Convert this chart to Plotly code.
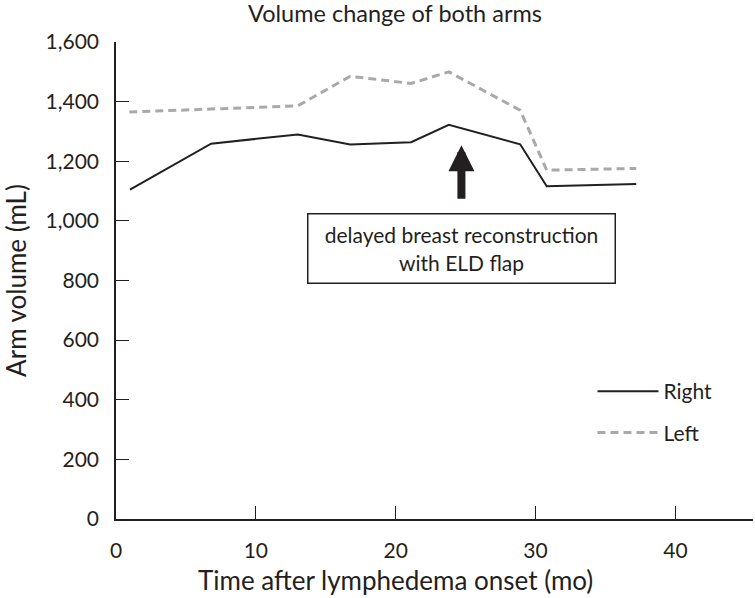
import plotly.graph_objects as go

# ---- data ----
months_right = [1.0, 6.8, 13.0, 16.75, 21.1, 23.8, 28.9, 30.8, 37.2]
volume_right = [1105, 1259, 1290, 1256, 1264, 1322, 1257, 1116, 1124]
months_left = [0.95, 13.0, 16.75, 21.1, 23.8, 28.9, 30.8, 37.2]
volume_left = [1365, 1386, 1485, 1461, 1500, 1371, 1170, 1176]

x_ticks = [0, 10, 20, 30, 40]
y_ticks = [0, 200, 400, 600, 800, 1000, 1200, 1400, 1600]
y_tick_labels = ["0", "200", "400", "600", "800", "1,000", "1,200", "1,400", "1,600"]

title_text = "Volume change of both arms"
x_title = "Time after lymphedema onset (mo)"
y_title = "Arm volume (mL)"
event_text = "delayed breast reconstruction<br>with ELD flap"
event_month = 24.7
arrow_tip, arrow_tail = 1254, 1069
box_center = 908

INK = "#231f20"
GREY = "#a7a9ac"
FONT = "Lato"
W, H = 755, 598
PLOT_TOP, PLOT_BOTTOM = 42, 519

fig = go.Figure()
fig.add_trace(go.Scatter(x=months_right, y=volume_right, mode="lines", name="Right",
                         legendgroup="r",
                         line=dict(color=INK, width=2)))
fig.add_trace(go.Scatter(x=months_left, y=volume_left, mode="lines", name="Left",
                         legendgroup="l",
                         line=dict(color=GREY, width=3, dash="8px,5px")))

fig.add_annotation(x=event_month, y=arrow_tip, ax=event_month, ay=arrow_tail,
                   xref="x", yref="y", axref="x", ayref="y", text="",
                   showarrow=True, arrowhead=2, arrowsize=0.65, arrowwidth=8,
                   arrowcolor=INK)
fig.add_annotation(x=event_month, y=box_center, xref="x", yref="y",
                   text=event_text, showarrow=False,
                   font=dict(family=FONT, size=21, color=INK),
                   bordercolor=INK, borderwidth=1.5, borderpad=3,
                   width=300, height=62, bgcolor="white")
# x-axis title (centred on the page, as in the reference)
fig.add_annotation(x=(395 - 116) / (W - 118), y=(PLOT_BOTTOM - 580) / (PLOT_BOTTOM - PLOT_TOP),
                   xref="paper", yref="paper",
                   text=x_title, showarrow=False, xanchor="center", yanchor="middle",
                   font=dict(family=FONT, size=26, color=INK))

fig.update_layout(
    width=W, height=H,
    margin=dict(l=116, r=2, t=PLOT_TOP, b=H - PLOT_BOTTOM, autoexpand=False),
    paper_bgcolor="white", plot_bgcolor="white",
    font=dict(family=FONT, color=INK, size=19),
    title=dict(text=title_text, x=395 / W, xanchor="center", xref="container",
               y=1 - 14 / H, yanchor="middle", yref="container",
               font=dict(family=FONT, size=23.5, color=INK)),
    showlegend=True,
    legend=dict(x=0.748, y=(519 - 371) / 477, xanchor="left", yanchor="top",
                traceorder="grouped", tracegroupgap=11, itemwidth=61,
                font=dict(family=FONT, size=21, color=INK),
                bgcolor="rgba(0,0,0,0)"),
)
fig.update_xaxes(range=[0, 45.55], tickvals=x_ticks, ticks="inside", ticklen=13,
                 tickwidth=1.2, tickcolor=INK, showline=True, linecolor=INK,
                 linewidth=1.5, showgrid=False, zeroline=False, automargin=False,
                 tickfont=dict(family=FONT, size=21, color=INK), ticklabelstandoff=12)
fig.update_yaxes(range=[0, 1600], tickvals=y_ticks, ticktext=y_tick_labels,
                 ticks="inside", ticklen=13, tickwidth=1.2, tickcolor=INK,
                 showline=True, linecolor=INK, linewidth=1.5, showgrid=False,
                 zeroline=False, automargin=False,
                 tickfont=dict(family=FONT, size=21, color=INK),
                 ticklabelstandoff=11,
                 title=dict(text=y_title, standoff=15,
                            font=dict(family=FONT, size=26, color=INK)))

fig.write_html("out.html", config={"displayModeBar": False},
               post_script="document.body.style.margin='0';document.body.style.padding='0';")
